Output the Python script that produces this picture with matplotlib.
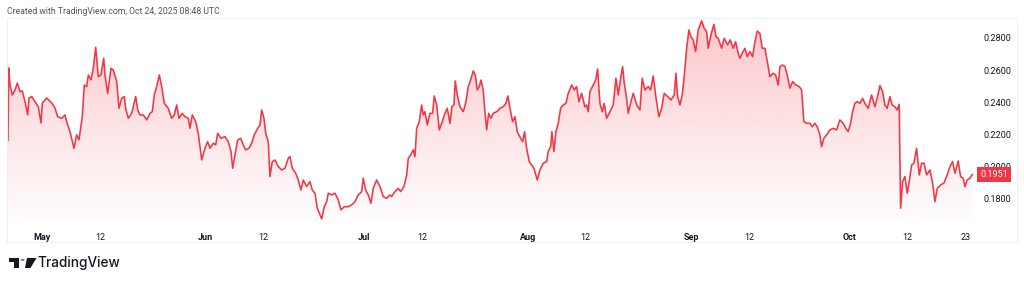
import numpy as np
import pandas as pd
import matplotlib
matplotlib.use('Agg')
import matplotlib.pyplot as plt
import matplotlib.dates as mdates
from matplotlib.colors import to_rgb
from matplotlib.patches import Rectangle, Polygon, Circle
from matplotlib.transforms import blended_transform_factory

W, H = 1024, 285
START = pd.Timestamp('2025-05-01')
RED = '#F23645'
TEXT = '#131722'

# days since May 1 2025
day_offset = [
    -6.44, -6.3, -6.06, -5.63, -5.11, -4.68, -4.17, -3.73, -3.22, -2.71, -2.46, -1.95, -1.33, -0.70,
    -0.19, 0.06, 0.89, 1.84, 2.46, 2.97, 3.73, 4.36, 4.68, 5.30, 6.06, 6.57, 7.01, 7.63, 8.01, 8.47,
    8.77, 9.28, 9.71, 10.17, 10.66, 11.17, 11.69, 11.93, 12.44, 13.07, 13.50, 14.15, 14.58, 15.10,
    15.59, 15.85, 16.35, 16.99, 17.75, 18.13, 18.56, 19.19, 19.83, 20.46, 20.89, 21.27, 21.72, 22.22,
    22.67, 23.16, 23.92, 24.56, 25.06, 25.51, 25.95, 26.57, 27.08, 27.71, 28.03, 28.47, 29.11, 29.60,
    30.25, 30.87, 31.38, 31.82, 32.44, 32.90, 33.28, 33.90, 34.66, 35.29, 35.80, 36.12, 36.55, 37.07,
    37.63, 38.13, 38.58, 39.21, 39.72, 40.21, 40.86, 41.30, 41.61, 42.05, 42.37, 42.86, 43.18, 43.62,
    44.13, 44.76, 45.40, 46.03, 46.65, 46.97, 47.41, 48.05, 48.54, 49.05, 49.49, 50.13, 50.76, 51.19,
    51.71, 52.14, 52.52, 52.98, 53.47, 53.92, 54.23, 54.87, 55.49, 56.12, 56.63, 57.25, 58.01, 58.66,
    59.28, 59.91, 60.55, 60.85, 61.31, 61.80, 62.31, 62.75, 63.39, 64.02, 64.64, 65.29, 65.91, 66.23,
    66.86, 67.48, 67.94, 68.56, 69.08, 69.38, 69.83, 70.32, 70.65, 70.97, 71.46, 71.92, 72.22, 72.54,
    72.98, 73.49, 74.00, 74.30, 74.76, 75.25, 75.82, 76.33, 76.76, 77.28, 77.65, 78.03, 78.28, 78.66,
    79.17, 79.80, 80.31, 80.74, 81.20, 81.69, 82.07, 82.45, 82.83, 83.15, 83.58, 83.90, 84.23, 84.60,
    85.04, 85.48, 86.12, 86.75, 87.37, 87.88, 88.26, 88.64, 89.15, 89.59, 90.02, 90.67, 91.04, 91.42,
    91.80, 92.30, 92.75, 93.18, 93.81, 94.32, 94.95, 95.59, 95.89, 96.35, 96.59, 96.97, 97.35, 97.79,
    98.24, 98.73, 99.25, 99.68, 100.33, 100.82, 101.27, 101.71, 102.22, 102.84, 103.17, 103.47, 103.79,
    104.42, 104.87, 105.25, 105.69, 106.12, 106.50, 106.95, 107.58, 108.20, 108.72, 109.15, 109.66,
    109.98, 110.29, 110.74, 111.04, 111.56, 111.99, 112.64, 113.26, 113.70, 114.21, 114.83, 115.29,
    115.78, 116.23, 116.86, 117.37, 117.86, 118.51, 119.13, 119.76, 120.08, 120.40, 120.84, 121.27,
    121.65, 122.11, 122.54, 122.92, 123.36, 123.81, 124.30, 124.95, 125.44, 125.90, 126.20, 126.71,
    127.28, 127.66, 128.09, 128.74, 129.23, 129.87, 130.37, 130.94, 131.39, 131.88, 132.20, 132.64,
    133.15, 133.59, 134.10, 134.61, 135.04, 135.48, 135.99, 136.43, 136.94, 137.45, 137.88, 138.51,
    138.97, 139.46, 139.78, 140.29, 140.73, 141.16, 141.67, 142.18, 142.81, 143.43, 143.89, 144.32,
    144.83, 145.46, 145.89, 146.40, 146.84, 147.35, 147.67, 148.10, 148.62, 149.24, 149.87, 150.51,
    151.14, 151.76, 152.27, 152.71, 153.16, 153.54, 153.98, 154.41, 154.92, 155.44, 155.87, 156.50,
    157.14, 157.77, 158.20, 158.72, 159.23, 159.66, 160.10, 160.61, 161.05, 161.56, 161.99, 162.37,
    162.64, 163.02, 163.46, 163.89, 164.27, 164.73, 165.16, 165.67, 166.17, 166.62, 167.06, 167.57,
    168.19, 168.70, 169.14, 169.58, 170.22, 170.84, 171.47, 171.98, 172.49, 172.93, 173.55, 174.00,
    174.50, 174.82, 175.25, 175.76, 176.20,
]

close = [
    0.2165, 0.2614, 0.2508, 0.2446, 0.2477, 0.2520, 0.2467, 0.2471, 0.2404, 0.2322, 0.2427, 0.2436, 0.2404, 0.2373,
    0.2272, 0.2396, 0.2427, 0.2396, 0.2365, 0.2311, 0.2301, 0.2322, 0.2280, 0.2218, 0.2115, 0.2198, 0.2167, 0.2311, 0.2508, 0.2498,
    0.2570, 0.2539, 0.2612, 0.2742, 0.2560, 0.2570, 0.2674, 0.2570, 0.2456, 0.2612, 0.2601, 0.2529, 0.2363, 0.2425,
    0.2436, 0.2363, 0.2301, 0.2332, 0.2436, 0.2353, 0.2322, 0.2322, 0.2291, 0.2332, 0.2342, 0.2446, 0.2498, 0.2570,
    0.2498, 0.2394, 0.2363, 0.2301, 0.2322, 0.2384, 0.2301, 0.2332, 0.2311, 0.2301, 0.2239, 0.2322, 0.2280, 0.2208,
    0.2042, 0.2115, 0.2156, 0.2115, 0.2146, 0.2136, 0.2208, 0.2177, 0.2187, 0.2156, 0.2094, 0.1991, 0.2073, 0.2167,
    0.2177, 0.2136, 0.2105, 0.2115, 0.2146, 0.2198, 0.2239, 0.2260, 0.2353, 0.2301, 0.2208, 0.2156, 0.1939, 0.2032,
    0.2042, 0.2001, 0.1980, 0.1991, 0.2053, 0.2063, 0.1991, 0.1960, 0.1918, 0.1856, 0.1918, 0.1877, 0.1908, 0.1856,
    0.1836, 0.1743, 0.1712, 0.1676, 0.1752, 0.1783, 0.1836, 0.1825, 0.1836, 0.1794, 0.1732, 0.1752, 0.1752, 0.1763,
    0.1783, 0.1825, 0.1846, 0.1929, 0.1856, 0.1825, 0.1773, 0.1866, 0.1918, 0.1877, 0.1815, 0.1804, 0.1825, 0.1815,
    0.1846, 0.1866, 0.1846, 0.1877, 0.1949, 0.2053, 0.2073, 0.2105, 0.2063, 0.2239, 0.2280, 0.2384, 0.2322, 0.2342,
    0.2260, 0.2332, 0.2332, 0.2440, 0.2384, 0.2229, 0.2280, 0.2332, 0.2363, 0.2270, 0.2373, 0.2384, 0.2533, 0.2446,
    0.2373, 0.2342, 0.2404, 0.2498, 0.2539, 0.2595, 0.2570, 0.2477, 0.2498, 0.2539, 0.2477, 0.2342, 0.2229, 0.2332,
    0.2301, 0.2332, 0.2342, 0.2363, 0.2373, 0.2394, 0.2440, 0.2363, 0.2280, 0.2311, 0.2218, 0.2177, 0.2156, 0.2218,
    0.2115, 0.2032, 0.2011, 0.1991, 0.1918, 0.1980, 0.2022, 0.2032, 0.2094, 0.2125, 0.2218, 0.2094, 0.2218, 0.2270,
    0.2363, 0.2384, 0.2394, 0.2456, 0.2508, 0.2477, 0.2498, 0.2404, 0.2456, 0.2373, 0.2384, 0.2342, 0.2467,
    0.2508, 0.2539, 0.2607, 0.2394, 0.2342, 0.2394, 0.2301, 0.2342, 0.2384, 0.2550, 0.2446, 0.2560,
    0.2622, 0.2519, 0.2425, 0.2332, 0.2404, 0.2456, 0.2384, 0.2353, 0.2550, 0.2477, 0.2498, 0.2477,
    0.2564, 0.2446, 0.2311, 0.2363, 0.2456, 0.2436, 0.2415, 0.2446, 0.2581, 0.2436, 0.2384, 0.2446,
    0.2560, 0.2736, 0.2850, 0.2808, 0.2788, 0.2715, 0.2850, 0.2906, 0.2860, 0.2839, 0.2736, 0.2819,
    0.2885, 0.2808, 0.2798, 0.2736, 0.2798, 0.2757, 0.2788, 0.2736, 0.2777, 0.2705, 0.2674, 0.2705,
    0.2736, 0.2684, 0.2715, 0.2684, 0.2777, 0.2843, 0.2829, 0.2736, 0.2736, 0.2643, 0.2560, 0.2581,
    0.2570, 0.2508, 0.2622, 0.2632, 0.2622, 0.2570, 0.2488, 0.2529, 0.2508, 0.2498, 0.2477, 0.2280,
    0.2270, 0.2270, 0.2249, 0.2270, 0.2249, 0.2198, 0.2125, 0.2177, 0.2198, 0.2229, 0.2239, 0.2229,
    0.2291, 0.2270, 0.2239, 0.2218, 0.2270, 0.2342, 0.2394, 0.2404, 0.2394, 0.2425, 0.2394, 0.2363,
    0.2446, 0.2373, 0.2425, 0.2504, 0.2467, 0.2384, 0.2363, 0.2436, 0.2384, 0.2373, 0.2353, 0.2388,
    0.1743, 0.1908, 0.1939, 0.1836, 0.1908, 0.2011, 0.2022, 0.2115, 0.1949, 0.2022, 0.2022, 0.1949,
    0.1980, 0.1898, 0.1783, 0.1866, 0.1887, 0.1898, 0.1949, 0.2001, 0.2032, 0.1960, 0.2036, 0.1939,
    0.1929, 0.1877, 0.1918, 0.1929, 0.1951,
]

tick_dates = ['2025-05-01', '2025-05-12', '2025-06-01', '2025-06-12', '2025-07-01', '2025-07-12',
              '2025-08-01', '2025-08-12', '2025-09-01', '2025-09-12', '2025-10-01', '2025-10-12',
              '2025-10-23']
tick_labels = ['May', '12', 'Jun', '12', 'Jul', '12', 'Aug', '12', 'Sep', '12', 'Oct', '12', '23']
price_ticks = [0.18, 0.20, 0.22, 0.24, 0.26, 0.28]
last_price = close[-1]


def fx(x):
    return x / W


def fy(y):
    return 1 - y / H


plt.rcParams['font.family'] = ['Roboto', 'DejaVu Sans']

fig = plt.figure(figsize=(W / 100, H / 100), dpi=100)
fig.patch.set_facecolor('white')

# faint panel border
fig.patches.append(Rectangle((fx(7), fy(242)), fx(1017) - fx(7), fy(18) - fy(242),
                             transform=fig.transFigure, fill=False, edgecolor='#eef0f3', linewidth=0.8))

ax = fig.add_axes([fx(8), fy(222), fx(978) - fx(8), fy(18) - fy(222)])
t0 = mdates.date2num(START.to_pydatetime())
t = t0 + np.array(day_offset)
y = np.array(close)

ylo, yhi = 0.1657, 0.2924
ax.set_xlim(t0 - 6.44, t0 + 177.3)
ax.set_ylim(ylo, yhi)

# gradient area under the line
poly = ax.fill_between(t, y, ylo, color='none', linewidth=0)
n = 256
frac = np.linspace(0, 1, n).reshape(-1, 1)
rgba = np.zeros((n, 1, 4))
rgba[..., :3] = to_rgb(RED)
rgba[..., 3] = 0.01 + 0.27 * frac
img = ax.imshow(rgba, extent=[t[0], t[-1], ylo, y.max()], origin='lower', aspect='auto',
                interpolation='bilinear', zorder=1)
img.set_clip_path(poly.get_paths()[0], transform=ax.transData)

ax.plot(t, y, color=RED, linewidth=1.15, zorder=2, solid_joinstyle='round')

for s in ax.spines.values():
    s.set_visible(False)

tick_pos = [mdates.date2num(pd.Timestamp(d).to_pydatetime()) for d in tick_dates]
ax.set_xticks(tick_pos)
ax.set_xticklabels(tick_labels)
ax.tick_params(axis='x', length=0, pad=8, labelsize=6.5, labelcolor=TEXT)
for lab in ax.get_xticklabels():
    if lab.get_text().isalpha():
        lab.set_fontweight('bold')

ax.yaxis.tick_right()
ax.set_yticks(price_ticks)
ax.set_yticklabels([f'{v:.4f}' for v in price_ticks])
ax.tick_params(axis='y', length=0, pad=4, labelsize=6.5, labelcolor=TEXT)

# last price badge (covers part of the 0.2000 label, as in the source)
trans = blended_transform_factory(fig.transFigure, ax.transData)
ax.text(fx(994), last_price, f'{last_price:.4f}', transform=trans, ha='center', va='center',
        fontsize=6.5, color='white', zorder=5, clip_on=False,
        bbox=dict(boxstyle='square,pad=0.3', facecolor=RED, edgecolor='none'))

fig.text(fx(7), fy(11), 'Created with TradingView.com, Oct 24, 2025 08:48 UTC',
         fontsize=6.2, color='#50535e', ha='left', va='center')

# TradingView logo
logo = '#131722'
fig.patches.append(Polygon([(fx(8.5), fy(258)), (fx(19), fy(258)), (fx(19), fy(268)), (fx(14), fy(268)),
                            (fx(14), fy(262)), (fx(8.5), fy(262))], closed=True,
                           transform=fig.transFigure, facecolor=logo, edgecolor='none'))
fig.patches.append(Polygon([(fx(27), fy(258)), (fx(36.5), fy(258)), (fx(30.5), fy(268)), (fx(25), fy(268))],
                           closed=True, transform=fig.transFigure, facecolor=logo, edgecolor='none'))
fig.patches.append(Circle((fx(22.5), fy(260)), 2.0 / W, transform=fig.transFigure,
                          facecolor=logo, edgecolor='none'))
fig.text(fx(37.5), fy(263.5), 'TradingView', fontsize=9.8, fontweight='medium', color=logo,
         family=['Inter', 'DejaVu Sans'], ha='left', va='center')

fig.savefig('out.png', dpi=100, facecolor='white')
